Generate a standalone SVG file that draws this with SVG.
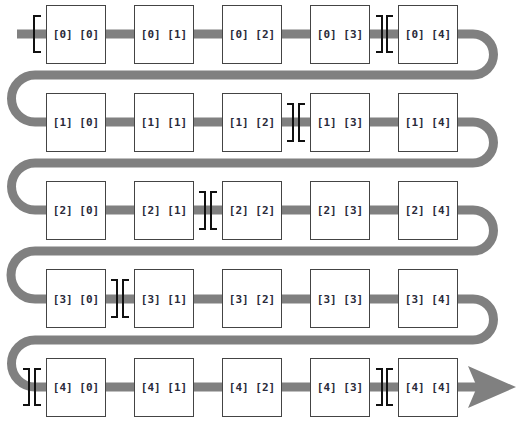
<svg xmlns="http://www.w3.org/2000/svg" width="522" height="427" viewBox="0 0 522 427">
<style>
.pipe{fill:none;stroke:#808080;stroke-width:9}
.box rect{fill:#fff;stroke:#444;stroke-width:1}
.box text{font-family:"DejaVu Sans Mono","Liberation Mono",monospace;font-size:11px;font-weight:bold;fill:#2a2a3a;text-anchor:middle;dominant-baseline:central}
.br{fill:none;stroke:#111;stroke-width:2}
</style>
<rect width="522" height="427" fill="#fff"/>
<g id="connectors">
<path class="pipe" d="M17 34H473A20.5 20.5 0 0 1 473 75H35A23.5 23.5 0 0 0 35 122H473A20.5 20.5 0 0 1 473 163H35A23.5 23.5 0 0 0 35 210H473A20.5 20.5 0 0 1 473 251H35A24 24 0 0 0 35 299H473A20.5 20.5 0 0 1 473 340H35A23.5 23.5 0 0 0 35 387H478"/>
<polygon points="468,366 516,387 468,408 477,387" fill="#808080"/>
</g>
<g id="n00" class="box"><rect x="46.5" y="5.5" width="59" height="58"/><text x="76" y="34">[0] [0]</text></g>
<g id="n01" class="box"><rect x="134.5" y="5.5" width="59" height="58"/><text x="164" y="34">[0] [1]</text></g>
<g id="n02" class="box"><rect x="222.5" y="5.5" width="59" height="58"/><text x="252" y="34">[0] [2]</text></g>
<g id="n03" class="box"><rect x="310.5" y="5.5" width="59" height="58"/><text x="340" y="34">[0] [3]</text></g>
<g id="n04" class="box"><rect x="398.5" y="5.5" width="59" height="58"/><text x="428" y="34">[0] [4]</text></g>
<g id="n10" class="box"><rect x="46.5" y="93.5" width="59" height="58"/><text x="76" y="122">[1] [0]</text></g>
<g id="n11" class="box"><rect x="134.5" y="93.5" width="59" height="58"/><text x="164" y="122">[1] [1]</text></g>
<g id="n12" class="box"><rect x="222.5" y="93.5" width="59" height="58"/><text x="252" y="122">[1] [2]</text></g>
<g id="n13" class="box"><rect x="310.5" y="93.5" width="59" height="58"/><text x="340" y="122">[1] [3]</text></g>
<g id="n14" class="box"><rect x="398.5" y="93.5" width="59" height="58"/><text x="428" y="122">[1] [4]</text></g>
<g id="n20" class="box"><rect x="46.5" y="181.5" width="59" height="58"/><text x="76" y="210">[2] [0]</text></g>
<g id="n21" class="box"><rect x="134.5" y="181.5" width="59" height="58"/><text x="164" y="210">[2] [1]</text></g>
<g id="n22" class="box"><rect x="222.5" y="181.5" width="59" height="58"/><text x="252" y="210">[2] [2]</text></g>
<g id="n23" class="box"><rect x="310.5" y="181.5" width="59" height="58"/><text x="340" y="210">[2] [3]</text></g>
<g id="n24" class="box"><rect x="398.5" y="181.5" width="59" height="58"/><text x="428" y="210">[2] [4]</text></g>
<g id="n30" class="box"><rect x="46.5" y="269.5" width="59" height="58"/><text x="76" y="299">[3] [0]</text></g>
<g id="n31" class="box"><rect x="134.5" y="269.5" width="59" height="58"/><text x="164" y="299">[3] [1]</text></g>
<g id="n32" class="box"><rect x="222.5" y="269.5" width="59" height="58"/><text x="252" y="299">[3] [2]</text></g>
<g id="n33" class="box"><rect x="310.5" y="269.5" width="59" height="58"/><text x="340" y="299">[3] [3]</text></g>
<g id="n34" class="box"><rect x="398.5" y="269.5" width="59" height="58"/><text x="428" y="299">[3] [4]</text></g>
<g id="n40" class="box"><rect x="46.5" y="358.5" width="59" height="58"/><text x="76" y="387">[4] [0]</text></g>
<g id="n41" class="box"><rect x="134.5" y="358.5" width="59" height="58"/><text x="164" y="387">[4] [1]</text></g>
<g id="n42" class="box"><rect x="222.5" y="358.5" width="59" height="58"/><text x="252" y="387">[4] [2]</text></g>
<g id="n43" class="box"><rect x="310.5" y="358.5" width="59" height="58"/><text x="340" y="387">[4] [3]</text></g>
<g id="n44" class="box"><rect x="398.5" y="358.5" width="59" height="58"/><text x="428" y="387">[4] [4]</text></g>
<g id="brackets">
<path class="br" d="M41 16H34V52H41"/>
<path class="br" d="M376 16H382V52H376M393 16H387V52H393"/>
<path class="br" d="M287 104H293V141H287M305 104H299V141H305"/>
<path class="br" d="M199 192H205V229H199M217 192H211V229H217"/>
<path class="br" d="M111 280H117V317H111M129 280H123V317H129"/>
<path class="br" d="M23 369H29V405H23M41 369H35V405H41"/>
<path class="br" d="M376 369H382V405H376M393 369H387V405H393"/>
</g>
</svg>
